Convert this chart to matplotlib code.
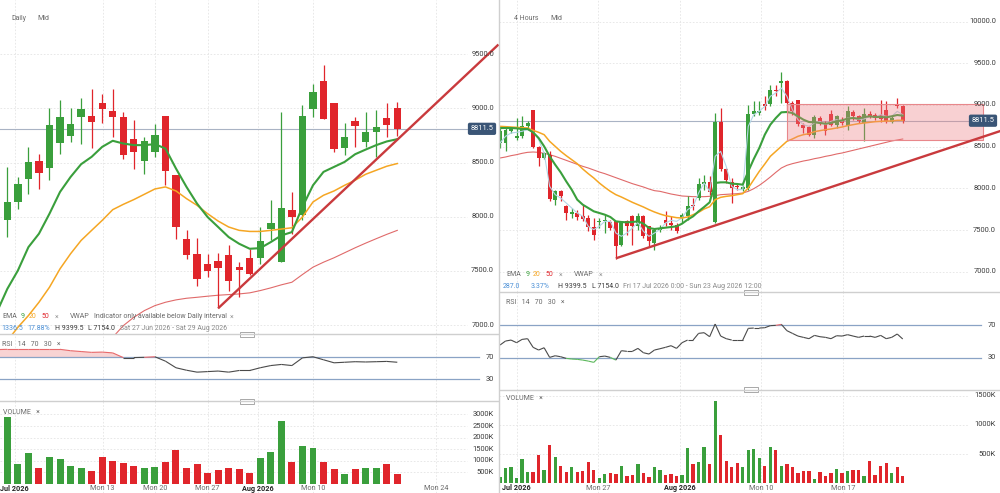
import numpy as np
import matplotlib.pyplot as plt
from matplotlib.collections import LineCollection
from matplotlib.lines import Line2D
from matplotlib.patches import Rectangle

plt.rcParams['font.family'] = ['Roboto', 'DejaVu Sans']

GREEN = '#3a9f3c'
RED = '#e0252b'
ORANGE = '#f5a623'
EMA50C = '#e06a6a'
TREND = '#c93a3d'
TXT = '#3c3c3c'
LEG = '#6a6a6a'
BLUE = '#4a8fd6'
GRID = '#e4e4e4'
RSIBAND = '#8aa3c5'

# ---------------- daily chart ----------------
d_open = [7472, 7972, 8136, 8346, 8516, 8451, 8682, 8747, 8923, 8932, 9046, 8978, 8917,
          8722, 8516, 8599, 8929, 8389, 7790, 7657, 7559, 7587, 7642, 7534, 7617, 7617,
          7883, 7580, 8059, 8013, 8994, 9256, 9046, 8639, 8883, 8692, 8784, 8907, 9000]
d_high = [7900, 8460, 8367, 8645, 8583, 9000, 9077, 9000, 9093, 9176, 9133, 9176, 8969,
          8892, 8738, 8855, 8929, 8389, 7874, 7806, 7657, 7667, 7735, 7580, 7704, 7904,
          8151, 8963, 8229, 9031, 9225, 9399.5, 9046, 8861, 8923, 8963, 8985, 9052, 9062]
d_low = [7440, 7812, 8074, 8213, 8260, 8337, 8583, 8691, 8670, 8636, 8861, 8738, 8537,
         8445, 8398, 8553, 8290, 7797, 7605, 7364, 7442, 7154, 7312, 7257, 7466, 7565,
         7781, 7580, 7843, 7966, 8917, 8898, 8599, 8568, 8645, 8645, 8553, 8738, 8744]
d_close = [7874, 8136, 8300, 8506, 8404, 8846, 8923, 8852, 8991, 8877, 8997, 8923, 8568,
           8599, 8701, 8759, 8423, 7905, 7651, 7426, 7503, 7525, 7405, 7509, 7472, 7772,
           7942, 8083, 7997, 8932, 9148, 8898, 8624, 8738, 8840, 8784, 8824, 8846, 8811.5]
d_ema9 = [7118, 7334, 7503, 7719, 7843, 8028, 8229, 8367, 8485, 8553, 8645, 8701, 8676,
          8661, 8661, 8670, 8630, 8445, 8275, 8121, 7997, 7905, 7812, 7750, 7704, 7710,
          7766, 7827, 7858, 8090, 8290, 8414, 8460, 8506, 8577, 8620, 8661, 8695, 8716]
d_ema20 = [6732, 6855, 6979, 7087, 7210, 7349, 7519, 7658, 7781, 7874, 7966, 8065, 8114,
           8158, 8207, 8256, 8275, 8238, 8167, 8105, 8028, 7960, 7905, 7874, 7864, 7864,
           7874, 7886, 7898, 7997, 8136, 8198, 8238, 8290, 8337, 8392, 8429, 8466, 8491]
d_ema50 = [None] * 10 + [6732, 6886, 6994, 7071, 7133, 7179, 7210, 7232, 7247, 7256, 7266,
                         7275, 7281, 7287, 7297, 7318, 7343, 7371, 7395, 7466, 7534, 7580,
                         7621, 7667, 7713, 7756, 7797, 7837, 7874]
d_rsi = [84, 84.5, 84.5, 84.5, 84.5, 84.5, 84.5, 82, 80.5, 79, 79.5, 78, 69.5, 69.5, 70,
         71, 63, 51, 46.5, 43, 44, 45, 43, 46, 46, 51, 55, 57, 55, 69, 71, 65.5, 60, 61,
         62, 61.5, 62, 62.5, 61]
d_vol = [1753, 2874, 862, 1322, 675, 1149, 1092, 776, 675, 575, 1178, 977, 905, 790, 690,
         718, 934, 1451, 690, 848, 460, 603, 675, 647, 474, 1121, 1365, 2701, 948, 1638,
         1537, 934, 647, 445, 632, 690, 690, 862, 445]
d_trend_x = [21, 47.6]
d_trend_y = [7154, 9590]
d_xtick_pos = [1.7, 10.05, 15.0, 20.0, 24.8, 30.0, 41.7]
d_xtick_lab = ['Jul 2026', 'Mon 13', 'Mon 20', 'Mon 27', 'Aug 2026', 'Mon 10', 'Mon 24']
d_price_ticks = [7000, 7500, 8000, 8500, 9000, 9500]
d_vol_ticks = [500, 1000, 1500, 2000, 2500, 3000]

# ---------------- 4 hour chart ----------------
h_open = [8544, 8544, 8684, 8604, 8624, 8752, 8944, 8496, 8364, 8404, 7864, 7964, 7792,
          7696, 7704, 7672, 7644, 7536, 7592, 7604, 7592, 7604, 7324, 7604, 7664, 7544,
          7664, 7544, 7344, 7504, 7624, 7584, 7564, 7644, 7664, 7804, 7884, 8056, 8072,
          7592, 8792, 8232, 8072, 8032, 7996, 8000, 8896, 8904, 9012, 9012, 9184, 9264,
          9284, 9024, 9064, 8764, 8736, 8644, 8844, 8776, 8896, 8764, 8824, 8744, 8912,
          8872, 8784, 8896, 8884, 8880, 8936, 8800, 9016, 8992]
h_high = [8724, 8744, 8740, 8844, 8864, 8804, 8944, 8504, 8440, 8444, 7984, 7984, 7804,
          7764, 7744, 7804, 7684, 7644, 7644, 7684, 7624, 7604, 7604, 7624, 7684, 7704,
          7684, 7544, 7524, 7560, 7724, 7664, 7584, 7704, 7904, 7884, 8124, 8164, 8144,
          8904, 8964, 8244, 8124, 8064, 8044, 9004, 9044, 9044, 9104, 9244, 9244, 9399.5,
          9300, 9044, 9064, 8784, 8744, 8884, 8864, 8804, 8944, 8884, 8856, 8984, 8944,
          8884, 8964, 8924, 8904, 9064, 9044, 8880, 9084, 9004]
h_low = [8484, 8444, 8660, 8584, 8604, 8724, 8490, 8272, 8350, 7844, 7804, 7844, 7624,
         7644, 7624, 7604, 7484, 7384, 7524, 7464, 7504, 7154, 7304, 7444, 7324, 7504,
         7404, 7304, 7264, 7480, 7544, 7504, 7464, 7584, 7624, 7744, 7864, 7984, 7924,
         7584, 8204, 8064, 7824, 7984, 7964, 7984, 8864, 8884, 8936, 8984, 9104, 9024,
         8904, 8884, 8744, 8664, 8624, 8604, 8764, 8644, 8744, 8724, 8760, 8704, 8824,
         8784, 8564, 8844, 8824, 8800, 8784, 8780, 8960, 8784]
h_close = [8684, 8704, 8712, 8632, 8752, 8784, 8496, 8364, 8424, 7872, 7964, 7912, 7704,
           7712, 7656, 7632, 7536, 7436, 7608, 7624, 7524, 7304, 7592, 7544, 7552, 7664,
           7424, 7364, 7504, 7524, 7584, 7564, 7484, 7684, 7784, 7784, 8056, 8072, 7952,
           8792, 8232, 8096, 8004, 8016, 8016, 8896, 8924, 8924, 8992, 9184, 9164, 9284,
           9024, 8924, 8776, 8724, 8644, 8856, 8784, 8684, 8764, 8864, 8784, 8924, 8872,
           8804, 8896, 8872, 8844, 8836, 8804, 8850, 8988, 8811.5]
h_ema9 = [8724, 8724, 8724, 8720, 8712, 8712, 8672, 8604, 8504, 8384, 8284, 8192, 8084,
          7984, 7864, 7804, 7764, 7724, 7704, 7684, 7656, 7604, 7596, 7592, 7596, 7604,
          7576, 7524, 7512, 7520, 7528, 7536, 7544, 7576, 7624, 7664, 7724, 7776, 7832,
          8064, 8072, 8072, 8056, 8052, 8044, 8204, 8352, 8484, 8644, 8764, 8844, 8912,
          8916, 8904, 8864, 8824, 8796, 8792, 8784, 8776, 8784, 8804, 8816, 8836, 8844,
          8836, 8856, 8864, 8856, 8856, 8852, 8864, 8880, 8872]
h_ema20 = [8744, 8740, 8736, 8732, 8728, 8724, 8696, 8672, 8644, 8564, 8504, 8444, 8392,
           8344, 8296, 8232, 8176, 8124, 8064, 8012, 7964, 7924, 7896, 7864, 7832, 7804,
           7776, 7744, 7716, 7692, 7672, 7660, 7648, 7644, 7656, 7684, 7712, 7752, 7780,
           7864, 7892, 7904, 7912, 7924, 7936, 8004, 8104, 8204, 8292, 8384, 8444, 8504,
           8564, 8592, 8624, 8644, 8656, 8680, 8692, 8704, 8712, 8724, 8736, 8752, 8764,
           8776, 8784, 8792, 8800, 8804, 8808, 8808, 8816, 8816]
h_ema50 = [8364, 8376, 8392, 8404, 8420, 8432, 8436, 8432, 8420, 8404, 8384, 8360, 8336,
           8312, 8288, 8264, 8244, 8220, 8196, 8176, 8152, 8128, 8104, 8080, 8056, 8036,
           8016, 7992, 7972, 7964, 7948, 7932, 7920, 7908, 7904, 7900, 7900, 7900, 7904,
           7912, 7924, 7928, 7932, 7936, 7944, 7964, 7996, 8036, 8084, 8136, 8192, 8244,
           8276, 8296, 8312, 8328, 8340, 8356, 8368, 8384, 8396, 8412, 8424, 8440, 8456,
           8472, 8488, 8504, 8520, 8536, 8552, 8568, 8580, 8592]
h_vwap = [8544, 8624, 8664, 8672, 8684, 8704, 8684, 8584, 8424, 8024, 7924, 7884, 7824,
          7764, 7704, 7664, 7544, 7504, 7544, 7604, 7604, 7464, 7424, 7464, 7524, 7592,
          7484, 7424, 7464, 7504, 7584, 7616, 7604, 7644, 7744, 7784, 7944, 8064, 7964,
          8384, 8444, 8264, 8024, 7984, 7984, 8744, 8884, 8924, 8984, 9104, 9144, 9204,
          9104, 8944, 8824, 8764, 8744, 8784, 8804, 8764, 8804, 8824, 8804, 8844, 8844,
          8824, 8832, 8864, 8856, 8884, 8864, 8864, 8924, 8884]
h_rsi = [45.5, 50.4, 51.6, 48.4, 52.4, 53.3, 42.7, 39.4, 42.2, 30.4, 32.4, 31.2, 29.2,
         28.4, 28.0, 27.1, 25.9, 24.3, 31.2, 32.0, 30.4, 27.1, 38.6, 37.8, 37.8, 41.4,
         36.1, 34.5, 39.4, 41.0, 42.7, 44.7, 41.4, 48.4, 51.6, 51.6, 59.8, 60.6, 55.7,
         71.2, 56.5, 53.3, 51.6, 51.6, 51.6, 65.9, 66.3, 66.3, 66.7, 69.2, 69.6, 70.8,
         63.1, 59.8, 56.5, 54.9, 53.3, 57.3, 55.7, 54.9, 53.3, 56.9, 56.5, 58.2, 56.5,
         54.9, 56.5, 56.5, 54.9, 57.3, 53.3, 54.9, 59.0, 52.9]
h_vol = [98, 253, 282, 80, 408, 184, 184, 483, 224, 649, 454, 299, 184, 282, 184, 207, 356,
         218, 80, 155, 167, 155, 287, 121, 138, 328, 167, 103, 270, 224, 138, 155, 121, 138,
         598, 328, 368, 615, 328, 1420, 833, 385, 270, 339, 282, 569, 580, 425, 293, 615,
         569, 293, 328, 270, 167, 213, 213, 75, 184, 126, 167, 236, 178, 213, 218, 224, 121,
         374, 138, 293, 351, 167, 270, 121]
h_trend_x = [21, 90.7]
h_trend_y = [7160, 8688]
h_box_x = [52.07, 87.5]
h_box_y = [8584, 9016]
h_xtick_pos = [3.0, 17.8, 32.6, 47.4, 62.2]
h_xtick_lab = ['Jul 2026', 'Mon 27', 'Aug 2026', 'Mon 10', 'Mon 17']
h_price_ticks = [7000, 7500, 8000, 8500, 9000, 9500, 10000]
h_vol_ticks = [500, 1000, 1500]
last_price = 8811.5

W, H = 1000, 493
fig = plt.figure(figsize=(W / 100, H / 100), dpi=100)


def panel(x0, y0, x1, y1, xlim, ylim):
    ax = fig.add_axes([x0 / W, 1 - y1 / H, (x1 - x0) / W, (y1 - y0) / H])
    ax.set_xlim(*xlim)
    ax.set_ylim(*ylim)
    ax.axis('off')
    return ax


def ftxt(x, y, s, **kw):
    kw.setdefault('fontsize', 5)
    kw.setdefault('color', LEG)
    fig.text(x / W, 1 - y / H, s, va='center', **kw)


def hline(x0, x1, y, color='#cfcfcf', lw=1.0):
    fig.add_artist(Line2D([x0 / W, x1 / W], [1 - y / H] * 2, color=color, lw=lw))


def handle(xc, y):
    fig.add_artist(Rectangle(((xc - 7) / W, 1 - (y + 2.5) / H), 14 / W, 5 / H,
                             transform=fig.transFigure, fc='white', ec='#9a9a9a', lw=0.6))


def ylabels(ax, ticks, fmt, xr, grid_to, dashed=True):
    tr = ax.get_yaxis_transform()
    for t in ticks:
        ax.text(xr, t, fmt(t), transform=tr, ha='right', va='center', fontsize=5.4,
                color=TXT, zorder=12)
        if dashed:
            ax.plot([0, grid_to], [t, t], transform=tr, color=GRID, lw=0.6,
                    ls=(0, (2, 2)), zorder=0)


def candles(ax, o, h, l, c, width):
    o, h, l, c = (np.asarray(v, float) for v in (o, h, l, c))
    x = np.arange(len(o))
    cols = np.where(c >= o, GREEN, RED)
    ax.vlines(x, l, h, colors=cols, lw=0.9, zorder=3)
    ax.bar(x, np.maximum(np.abs(c - o), 15), width, bottom=np.minimum(o, c),
           color=cols, lw=0, zorder=4)
    return cols


def rsi_plot(ax, r):
    r = np.asarray(r, float)
    x = np.arange(len(r))
    ax.fill_between(x, 70, r, where=r > 70, interpolate=True, color='#f8d3d3', lw=0, zorder=1)
    pts = np.column_stack([x, r])
    segs = np.stack([pts[:-1], pts[1:]], axis=1)
    mid = (r[:-1] + r[1:]) / 2
    cols = ['#e8696b' if m > 70 else '#5cb85c' if m < 30 else '#4a4a4a' for m in mid]
    ax.add_collection(LineCollection(segs, colors=cols, linewidths=0.8, zorder=3))


def build(side):
    if side == 'd':
        x0, x1 = 0, 499
        yp, yr, yv = 334, 401, 493
        xlim = (0.304, 47.65)
        plim, rlim, vlim = (6917, 10001), (-9.5, 112.4), (-388, 3578)
        o, h, l, c = d_open, d_high, d_low, d_close
        e9, e20, e50 = d_ema9, d_ema20, d_ema50
        rsi, vol = d_rsi, d_vol
        tx, ty = d_trend_x, d_trend_y
        xt_pos, xt_lab = d_xtick_pos, d_xtick_lab
        pticks, vticks = d_price_ticks, d_vol_ticks
        cw, vw = 0.7, 0.66
    else:
        x0, x1 = 499, 1000
        yp, yr, yv = 292, 390, 493
        xlim = (-0.18, 90.63)
        plim, rlim, vlim = (6756, 10260), (-9.5, 110.4), (-172, 1603)
        o, h, l, c = h_open, h_high, h_low, h_close
        e9, e20, e50 = h_ema9, h_ema20, h_ema50
        rsi, vol = h_rsi, h_vol
        tx, ty = h_trend_x, h_trend_y
        xt_pos, xt_lab = h_xtick_pos, h_xtick_lab
        pticks, vticks = h_price_ticks, h_vol_ticks
        cw, vw = 0.72, 0.6

    axp = panel(x0, 0, x1, yp, xlim, plim)
    axr = panel(x0, yp, x1, yr, xlim, rlim)
    axv = panel(x0, yr, x1, yv, xlim, vlim)
    wpx = x1 - x0
    xr = (wpx - 5) / wpx if side == 'd' else (wpx - 4) / wpx
    grid_to = (wpx - 32) / wpx

    for ax in (axp, axr, axv):
        for p in xt_pos:
            ax.axvline(p, color=GRID, lw=0.6, ls=(0, (2, 2)), zorder=0)

    # price pane
    ylabels(axp, pticks, lambda t: f'{t:.1f}', xr, grid_to)
    axp.plot([0, grid_to], [last_price] * 2, transform=axp.get_yaxis_transform(),
             color='#a9b3c4', lw=0.8, zorder=2)
    x = np.arange(len(o))
    axp.plot(x, np.array(e50, dtype=float), color=EMA50C, lw=0.8, zorder=2)
    if side == 'h':
        axp.plot(x, h_vwap, color='#b3d6e6', lw=0.8, zorder=5)
    cols = candles(axp, o, h, l, c, cw)
    axp.plot(x, e20, color=ORANGE, lw=1.1, zorder=6)
    axp.plot(x, e9, color=GREEN, lw=1.5, zorder=6)
    if side == 'h':
        axp.add_patch(Rectangle((h_box_x[0], h_box_y[0]), h_box_x[1] - h_box_x[0],
                                h_box_y[1] - h_box_y[0], fc='#ee7f84', alpha=0.36,
                                lw=0, zorder=8))
        axp.add_patch(Rectangle((h_box_x[0], h_box_y[0]), h_box_x[1] - h_box_x[0],
                                h_box_y[1] - h_box_y[0], fill=False, ec='#e8878b',
                                lw=0.8, zorder=8))
    axp.plot(tx, ty, color=TREND, lw=1.7, solid_capstyle='butt', zorder=9)
    axp.text((wpx - 17) / wpx, last_price, f'{last_price:.1f}',
             transform=axp.get_yaxis_transform(), ha='center', va='center',
             color='white', fontsize=5.4, zorder=13,
             bbox=dict(boxstyle='round,pad=0.35,rounding_size=0.25', fc='#3a5576', ec='none'))

    # rsi pane
    tr = axr.get_yaxis_transform()
    for lvl in (70, 30):
        axr.plot([0, grid_to + 0.025], [lvl, lvl], transform=tr, color=RSIBAND, lw=0.9, zorder=2)
    ylabels(axr, [70, 30], lambda t: f'{t}', xr, grid_to, dashed=False)
    rsi_plot(axr, rsi)

    # volume pane
    ylabels(axv, vticks, lambda t: f'{t}K', xr, grid_to)
    axv.bar(np.arange(len(vol)), vol, vw, color=cols, lw=0, zorder=3)
    for p, s in zip(xt_pos, xt_lab):
        bold = s.endswith('2026')
        axv.text(p, 0.045, s, transform=axv.get_xaxis_transform(), ha='center', va='center',
                 fontsize=5.2, color='#222222' if bold else LEG,
                 fontweight='bold' if bold else 'normal')


build('d')
build('h')

# separators and handles
hline(0, 498, 334)
hline(0, 498, 401)
hline(500, 1000, 292)
hline(500, 1000, 390)
fig.add_artist(Line2D([498.5 / W] * 2, [0, 1], color='#cfcfcf', lw=1.0))
handle(247, 334)
handle(247, 401)
handle(751, 292)
handle(751, 389)

# header labels
ftxt(11, 18, 'Daily')
ftxt(37, 18, 'Mid')
ftxt(514, 18, '4 Hours')
ftxt(550, 18, 'Mid')

# left legends
ftxt(2, 317, 'EMA')
ftxt(21, 317, '9', color=GREEN)
ftxt(29, 317, '20', color=ORANGE)
ftxt(42, 317, '50', color=RED)
ftxt(55, 317, '\u00d7', color='#999999')
ftxt(70, 317, 'VWAP')
ftxt(94, 317, 'Indicator only available below Daily interval')
ftxt(230, 317, '\u00d7', color='#999999')
ftxt(1, 329, '1336.5', color=BLUE)
ftxt(27, 329, '17.88%', color=BLUE)
ftxt(55, 329, 'H 9399.5', color=TXT)
ftxt(88, 329, 'L 7154.0', color=TXT)
ftxt(120, 329, 'Sat 27 Jun 2026 - Sat 29 Aug 2026', color='#8a8a8a')
ftxt(2, 344, 'RSI   14   70   30   \u00d7')
ftxt(3, 412, 'VOLUME   \u00d7')

# right legends
ftxt(506, 275, 'EMA')
ftxt(526, 275, '9', color=GREEN)
ftxt(533, 275, '20', color=ORANGE)
ftxt(546, 275, '50', color=RED)
ftxt(559, 275, '\u00d7', color='#999999')
ftxt(574, 275, 'VWAP')
ftxt(599, 275, '\u00d7', color='#999999')
ftxt(503, 287, '287.0', color=BLUE)
ftxt(531, 287, '3.37%', color=BLUE)
ftxt(558, 287, 'H 9399.5', color=TXT)
ftxt(592, 287, 'L 7154.0', color=TXT)
ftxt(623, 287, 'Fri 17 Jul 2026 0:00 - Sun 23 Aug 2026 12:00', color='#8a8a8a')
ftxt(506, 303, 'RSI   14   70   30   \u00d7')
ftxt(506, 399, 'VOLUME   \u00d7')

fig.savefig('out.png', dpi=100)
